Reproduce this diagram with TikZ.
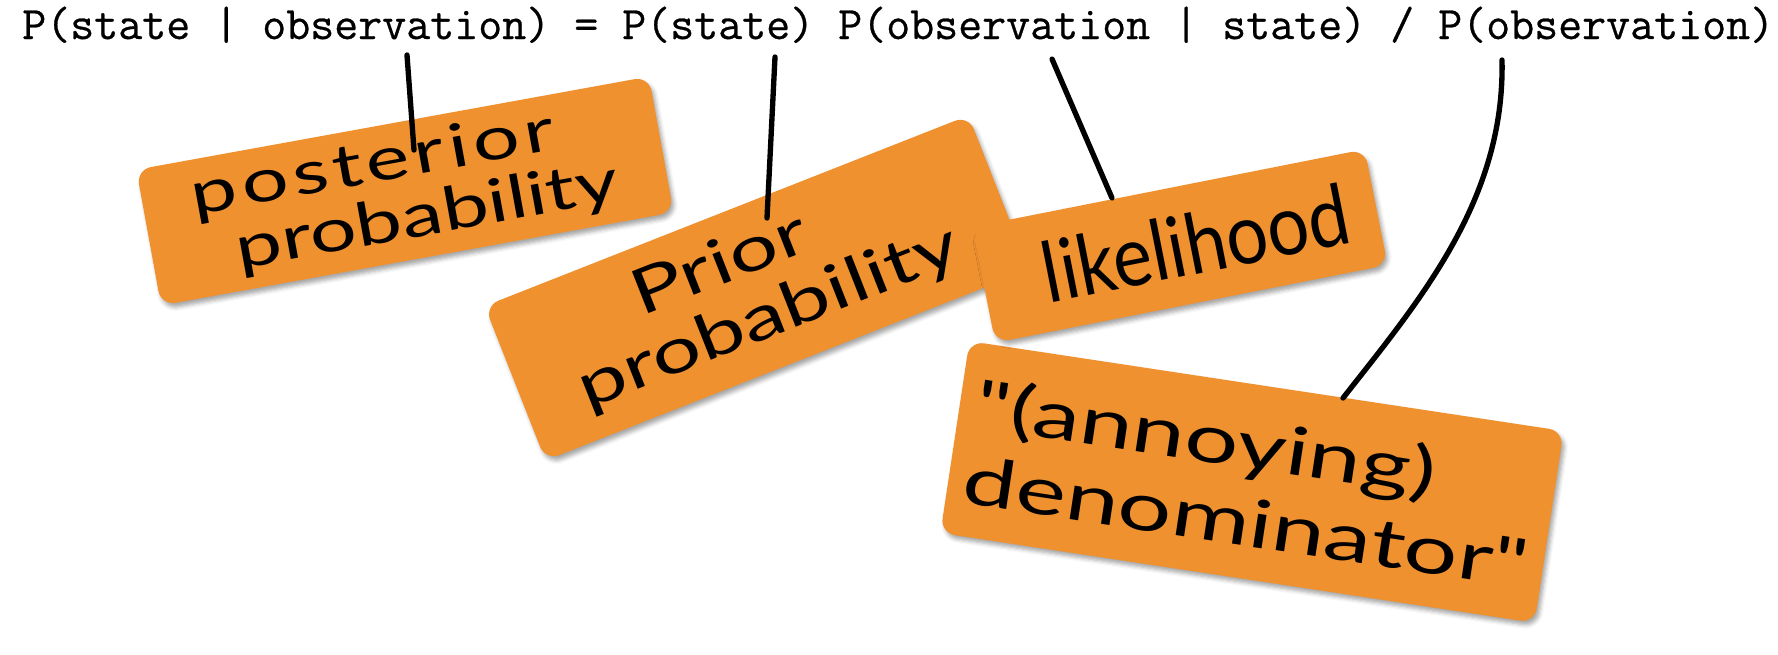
\documentclass[tikz,border=0pt]{standalone}
\usepackage{fontspec}
\usetikzlibrary{shadows.blur,calc}
\newfontfamily\eqfont[FakeBold=0.6]{Latin Modern Mono}
\newfontfamily\handW[FakeStretch=1.38]{Lato}
\newfontfamily\handD[FakeStretch=1.43]{Lato}
\newfontfamily\handN[FakeStretch=0.88]{Lato}
\definecolor{tagorange}{RGB}{240,145,48}
\tikzset{
  tag/.style={fill=tagorange, rounded corners=11pt, inner sep=0pt, text=black, align=left,
    blur shadow={shadow xshift=2pt, shadow yshift=-3pt, shadow blur radius=3pt, shadow opacity=35}},
  link/.style={draw=black, line width=4pt, line cap=round},
}
\begin{document}
\begin{tikzpicture}[x=0.75pt,y=-0.75pt]
\useasboundingbox (0,0) rectangle (1778,654);
\node[anchor=base west, inner sep=0pt, font=\eqfont\fontsize{34.95}{40}\selectfont] (eq) at (22,39)
  {P(state | observation) = P(state) P(observation | state) / P(observation)};

\node[tag, rotate=10.3, minimum width=390.75pt, minimum height=103.5pt,
  font=\handW\fontsize{45}{46}\selectfont] (post) at (405,191)
  {{\addfontfeature{LetterSpace=8}posterior}\\\hspace*{26pt}probability};
\node[tag, rotate=21.5, minimum width=390pt, minimum height=124.5pt,
  font=\handW\fontsize{47}{50}\selectfont] (prior) at (757,288)
  {\hspace*{63pt}Prior\\probability};
\node[tag, rotate=-8.6, minimum width=450.75pt, minimum height=145.5pt,
  font=\handD\fontsize{50}{58}\selectfont] (denom) at (1252,482)
  {"(annoying)\\denominator"};
\node[tag, rotate=11.2, minimum width=300pt, minimum height=88.5pt,
  font=\handN\fontsize{63}{66}\selectfont] (like) at (1180,246)
  {\hspace*{24pt}likelihood};

\coordinate (postTop) at (407,55);   \coordinate (postEnd) at (414,150);
\coordinate (priorTop) at (775,57);  \coordinate (priorEnd) at (767,218);
\coordinate (likeTop) at (1052,59);  \coordinate (likeEnd) at (1112,198);
\coordinate (denomTop) at (1502,60); \coordinate (denomEnd) at (1343,398);

\draw[link] (postTop) -- (postEnd);
\draw[link] (priorTop) -- (priorEnd);
\draw[link] (likeTop) -- (likeEnd);
\draw[link] (denomTop) .. controls (1505,200) and (1420,300) .. (denomEnd);
\end{tikzpicture}
\end{document}
